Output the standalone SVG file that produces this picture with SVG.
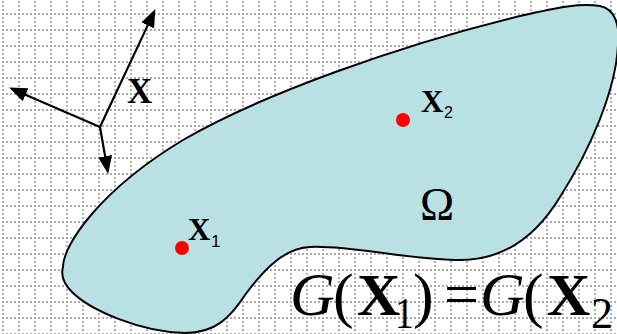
<svg xmlns="http://www.w3.org/2000/svg" width="617" height="334" viewBox="0 0 617 334">
<defs>
<style>
.grid line{stroke:#ababab;stroke-width:1.8;stroke-dasharray:2 2}
.grid .v{stroke-dashoffset:3}
.grid .h{stroke-dashoffset:2}
.arrow{stroke:#000;stroke-width:2.2;fill:none;marker-end:url(#ah)}
.dot{fill:#ff0000}
.bx{font-family:"Liberation Serif",serif;font-weight:bold;fill:#000}
.sub{font-family:"Liberation Sans",sans-serif;fill:#000}
.eq{font-family:"Liberation Serif",serif;fill:#000}
</style>
<marker id="ah" markerUnits="userSpaceOnUse" viewBox="0 0 18 14" refX="11" refY="7" markerWidth="18" markerHeight="14" orient="auto">
<path d="M0,0 L18,7 L0,14 z" fill="#000"/>
</marker>
</defs>
<rect width="617" height="334" fill="#fff"/>
<g id="grid" class="grid">
<line class="v" x1="3" y1="0" x2="3" y2="334"/><line class="v" x1="19" y1="0" x2="19" y2="334"/><line class="v" x1="35" y1="0" x2="35" y2="334"/><line class="v" x1="51" y1="0" x2="51" y2="334"/><line class="v" x1="67" y1="0" x2="67" y2="334"/><line class="v" x1="83" y1="0" x2="83" y2="334"/><line class="v" x1="99" y1="0" x2="99" y2="334"/><line class="v" x1="115" y1="0" x2="115" y2="334"/><line class="v" x1="131" y1="0" x2="131" y2="334"/><line class="v" x1="147" y1="0" x2="147" y2="334"/><line class="v" x1="163" y1="0" x2="163" y2="334"/><line class="v" x1="179" y1="0" x2="179" y2="334"/><line class="v" x1="195" y1="0" x2="195" y2="334"/><line class="v" x1="211" y1="0" x2="211" y2="334"/><line class="v" x1="227" y1="0" x2="227" y2="334"/><line class="v" x1="243" y1="0" x2="243" y2="334"/><line class="v" x1="259" y1="0" x2="259" y2="334"/><line class="v" x1="275" y1="0" x2="275" y2="334"/><line class="v" x1="291" y1="0" x2="291" y2="334"/><line class="v" x1="307" y1="0" x2="307" y2="334"/><line class="v" x1="323" y1="0" x2="323" y2="334"/><line class="v" x1="339" y1="0" x2="339" y2="334"/><line class="v" x1="355" y1="0" x2="355" y2="334"/><line class="v" x1="371" y1="0" x2="371" y2="334"/><line class="v" x1="387" y1="0" x2="387" y2="334"/><line class="v" x1="403" y1="0" x2="403" y2="334"/><line class="v" x1="419" y1="0" x2="419" y2="334"/><line class="v" x1="435" y1="0" x2="435" y2="334"/><line class="v" x1="451" y1="0" x2="451" y2="334"/><line class="v" x1="467" y1="0" x2="467" y2="334"/><line class="v" x1="483" y1="0" x2="483" y2="334"/><line class="v" x1="499" y1="0" x2="499" y2="334"/><line class="v" x1="515" y1="0" x2="515" y2="334"/><line class="v" x1="531" y1="0" x2="531" y2="334"/><line class="v" x1="547" y1="0" x2="547" y2="334"/><line class="v" x1="563" y1="0" x2="563" y2="334"/><line class="v" x1="579" y1="0" x2="579" y2="334"/><line class="v" x1="595" y1="0" x2="595" y2="334"/><line class="v" x1="611" y1="0" x2="611" y2="334"/>
<line class="h" x1="0" y1="14" x2="617" y2="14"/><line class="h" x1="0" y1="30" x2="617" y2="30"/><line class="h" x1="0" y1="46" x2="617" y2="46"/><line class="h" x1="0" y1="62" x2="617" y2="62"/><line class="h" x1="0" y1="78" x2="617" y2="78"/><line class="h" x1="0" y1="94" x2="617" y2="94"/><line class="h" x1="0" y1="110" x2="617" y2="110"/><line class="h" x1="0" y1="126" x2="617" y2="126"/><line class="h" x1="0" y1="142" x2="617" y2="142"/><line class="h" x1="0" y1="158" x2="617" y2="158"/><line class="h" x1="0" y1="174" x2="617" y2="174"/><line class="h" x1="0" y1="190" x2="617" y2="190"/><line class="h" x1="0" y1="206" x2="617" y2="206"/><line class="h" x1="0" y1="222" x2="617" y2="222"/><line class="h" x1="0" y1="238" x2="617" y2="238"/><line class="h" x1="0" y1="254" x2="617" y2="254"/><line class="h" x1="0" y1="270" x2="617" y2="270"/><line class="h" x1="0" y1="286" x2="617" y2="286"/><line class="h" x1="0" y1="302" x2="617" y2="302"/><line class="h" x1="0" y1="318" x2="617" y2="318"/><line class="h" x1="0" y1="334" x2="617" y2="334"/>
</g>
<g id="region">
<path d="M63,267 C63,245 100,190 183,140 C260,95 400,45 520,16 C560,7 580,3 600,6 C615,9 620,25 618,45 C616,90 590,150 560,197 C540,230 510,260 460,260 C410,260 350,245 310,247 C285,248 265,268 245,295 C230,318 215,333 185,333 C140,332 90,310 72,292 C62,282 61,274 63,267 Z" fill="#b9e0e3" stroke="#000" stroke-width="2"/>
<text class="eq" x="420" y="220" font-size="46">Ω</text>
</g>
<g id="connectors">
<line class="arrow" x1="100" y1="127" x2="152.4" y2="15.4"/>
<line class="arrow" x1="100" y1="127" x2="15.5" y2="90.4"/>
<line class="arrow" x1="100" y1="127" x2="107" y2="167.1"/>
</g>
<g id="label-x">
<text class="bx" x="127" y="103" font-size="35">X</text>
</g>
<g id="point-x1">
<circle class="dot" cx="182" cy="248" r="7"/>
<text class="bx" x="188" y="240" font-size="31">X</text>
<text class="sub" x="211" y="247" font-size="17">1</text>
</g>
<g id="point-x2">
<circle class="dot" cx="403" cy="120" r="7"/>
<text class="bx" x="421" y="112" font-size="31">X</text>
<text class="sub" x="444" y="118" font-size="16">2</text>
</g>
<g id="equation">
<text class="eq" x="290" y="315" font-size="62" font-style="italic">G</text>
<text class="eq" x="333" y="316" font-size="62">(</text>
<text class="eq" x="357" y="315" font-size="60" font-weight="bold">X</text>
<text class="eq" x="395" y="328" font-size="44" transform="translate(395 328) scale(0.85 1) translate(-395 -328)">1</text>
<text class="eq" x="413" y="316" font-size="62">)</text>
<text class="eq" x="444" y="315" font-size="62">=</text>
<text class="eq" x="480" y="315" font-size="62" font-style="italic">G</text>
<text class="eq" x="523" y="316" font-size="62">(</text>
<text class="eq" x="547" y="315" font-size="60" font-weight="bold">X</text>
<text class="eq" x="591" y="328" font-size="44">2</text>
</g>
</svg>
